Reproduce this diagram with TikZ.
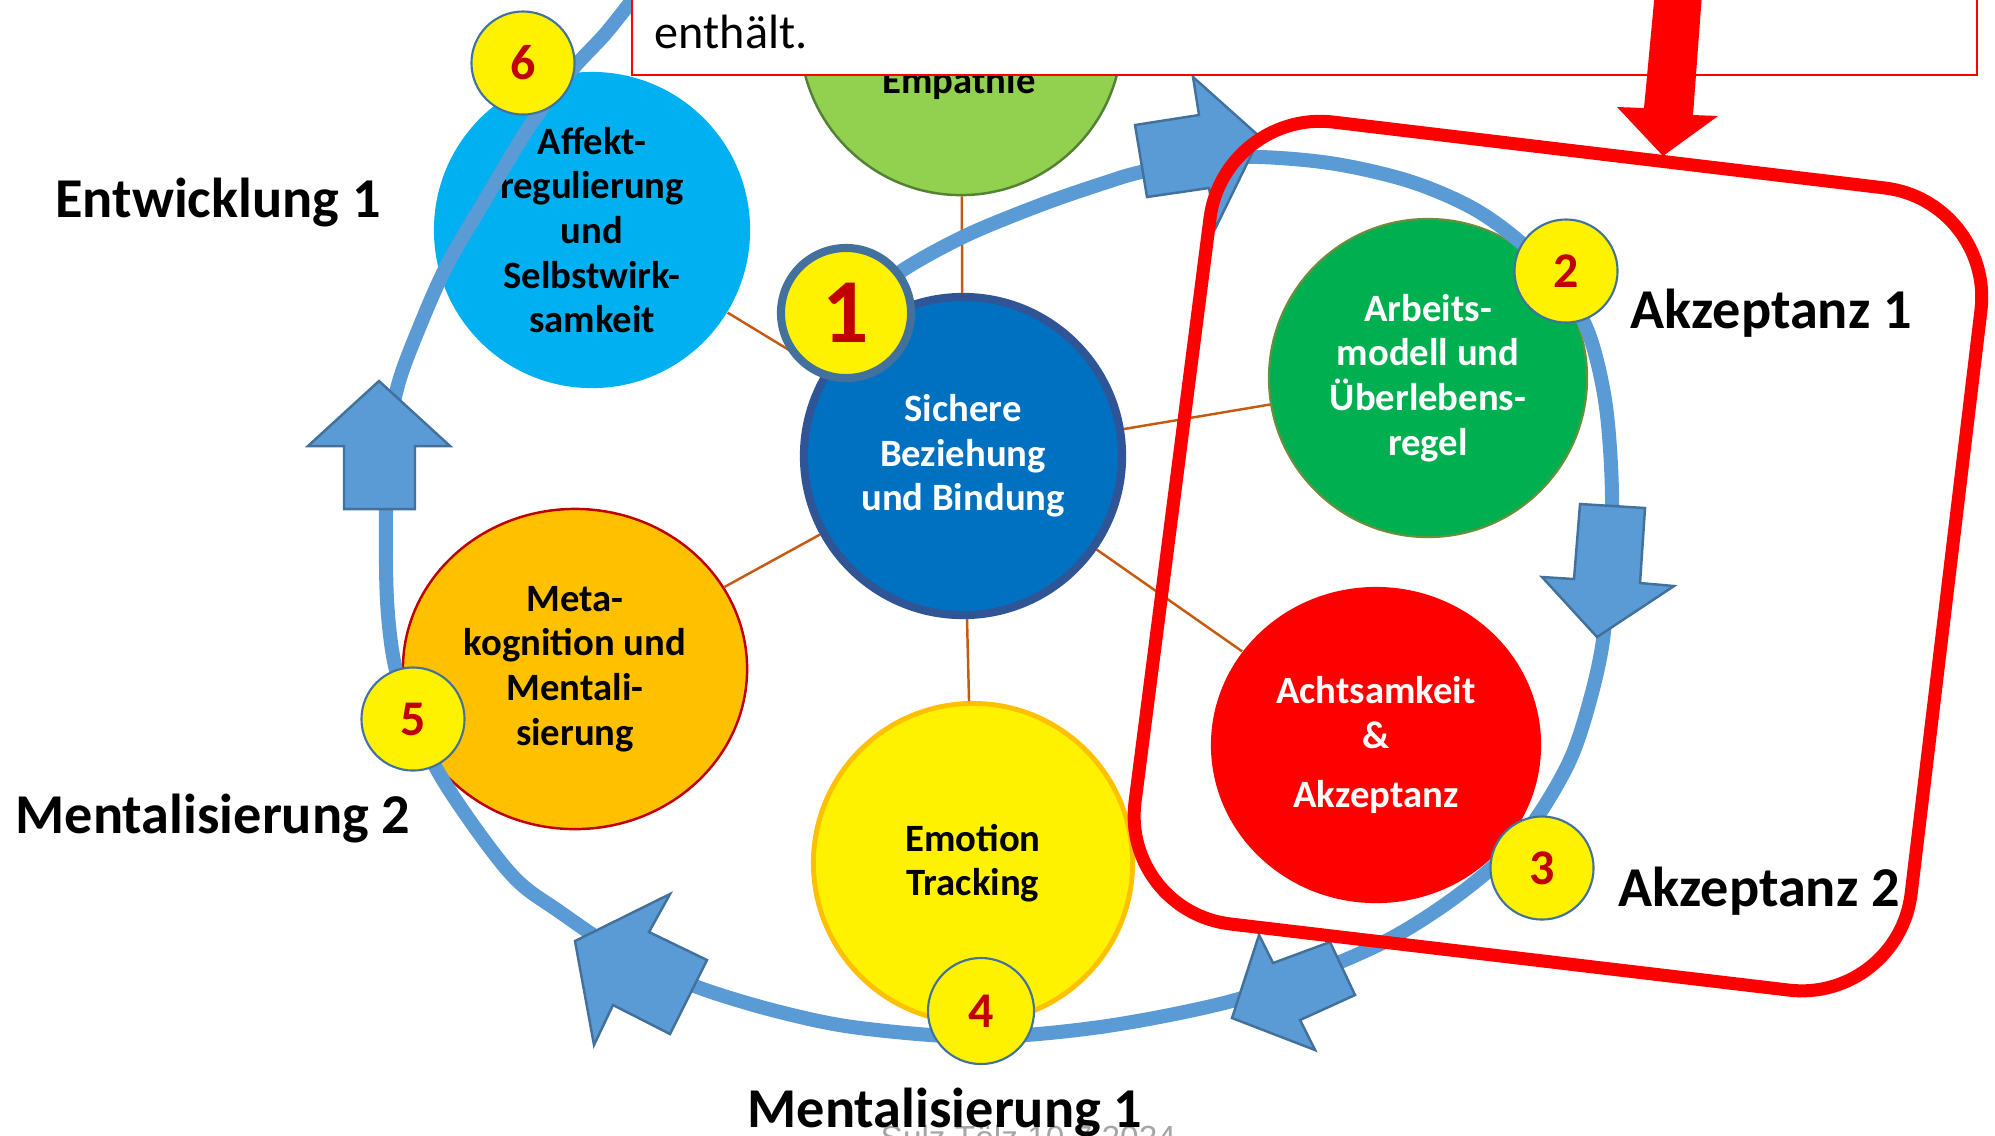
\documentclass[tikz,border=0pt]{standalone}
\usepackage{fontspec}
\setmainfont{Carlito}
\newfontfamily\footfont{Liberation Sans}
\usetikzlibrary{shapes.geometric}

\definecolor{ringblue}{HTML}{5B9BD5}
\definecolor{edgeblue}{HTML}{41719C}
\definecolor{linkbrown}{HTML}{C55A11}
\definecolor{coreblue}{HTML}{0070C0}
\definecolor{coreedge}{HTML}{2F5597}
\definecolor{empgreen}{HTML}{92D050}
\definecolor{empedge}{HTML}{548235}
\definecolor{affcyan}{HTML}{00B0F0}
\definecolor{arbgreen}{HTML}{00B050}
\definecolor{arbedge}{HTML}{6A8F3C}
\definecolor{metaorange}{HTML}{FFC000}
\definecolor{darkred}{HTML}{C00000}
\definecolor{footgray}{HTML}{A6A6A6}

\newcommand\topicfont{\fontsize{11pt}{12.7pt}\selectfont\bfseries}
\newcommand\badgefont{\fontsize{14.2pt}{16pt}\selectfont\bfseries}
\newcommand\bigbadgefont{\fontsize{26pt}{30pt}\selectfont\bfseries}
\newcommand\phasefont{\fontsize{16pt}{19pt}\selectfont\bfseries}

\begin{document}
\begin{tikzpicture}[x=0.01cm, y=-0.01cm,
  topic/.style={circle, inner sep=0pt, align=center, font=\topicfont},
  badge/.style={circle, draw=edgeblue, line width=0.6pt, fill=yellow,
    text=darkred, minimum size=1.03cm, inner sep=0pt, font=\badgefont},
  phase/.style={font=\phasefont, anchor=base, inner sep=0pt},
  blockarrow/.style={fill=ringblue, draw=edgeblue, line width=0.7pt, line join=miter},
  link/.style={draw=linkbrown, line width=0.7pt},
  ring/.style={draw=ringblue, line width=4pt},
  focusframe/.style={draw=red, line width=3.7pt, rounded corners=1.1cm}]

\useasboundingbox (0,0) rectangle (1995,1135);
\clip (0,0) rectangle (1995,1135);

% topic circles
\node[topic, fill=empgreen, draw=empedge, line width=0.7pt, minimum size=3.22cm] (emp) at (961,34) {};
\node[font=\topicfont, anchor=base, inner sep=0pt] (emptext) at (959,93) {Empathie};
\node[topic, fill=coreblue, draw=coreedge, line width=2.3pt, minimum size=3.18cm, text=white] (core) at (963,456) {Sichere\\Beziehung\\und Bindung};
\node[topic, fill=affcyan, minimum size=3.16cm] (aff) at (592,230) {Affekt-\\regulierung\\und\\Selbstwirk-\\samkeit};
\node[topic, fill=arbgreen, draw=arbedge, line width=0.6pt, minimum size=3.18cm, text=white] (arb) at (1428,378) {Arbeits-\\modell und\\Überlebens-\\regel};
\node[topic, ellipse, fill=red, minimum width=3.3cm, minimum height=3.16cm, text=white] (acht) at (1376,745) {Achtsamkeit\\\&\\[0.15cm]Akzeptanz};
\node[topic, fill=yellow, draw=metaorange, line width=1.4pt, minimum size=3.19cm] (emo) at (973,863) {Emotion\\Tracking};
\node[topic, ellipse, fill=metaorange, draw=darkred, line width=0.7pt, minimum width=3.44cm, minimum height=3.2cm] (meta) at (575,669) {Meta-\\kognition und\\Mentali-\\sierung};

% spokes from the centre
\foreach \t in {emp, aff, arb, acht, emo, meta}
  \draw[link] (core) -- (\t);

% the cycle ring
\draw[ring] plot[smooth, tension=0.55] coordinates {
  (860,305) (903,270) (967,235) (1043,204) (1107,182) (1141,172) (1200,160)
  (1260,157) (1336,164) (1412,182) (1476,210) (1527,248) (1565,290) (1590,337)
  (1606,407) (1612,496) (1608,570) (1603,640) (1590,700) (1570,760) (1535,820)
  (1495,865) (1440,908) (1380,944) (1300,978) (1220,1004) (1100,1027) (980,1037)
  (860,1028) (780,1012) (700,988) (630,958) (560,912) (510,873) (446,785)
  (413,719) (395,666) (387,600) (386,509) (388,440) (398,385) (417,333)
  (446,267) (485,200) (529,127) (570,72) (606,33) (640,-10)};

% block arrows on the ring
\draw[blockarrow] (1135,125) -- (1199,115) -- (1193,77) -- (1260,137) -- (1216,227) -- (1209,188) -- (1147,197) -- cycle;
\draw[blockarrow] (1580,504) -- (1645,508) -- (1640,583) -- (1674,586) -- (1597,637) -- (1542,577) -- (1574,579) -- cycle;
\draw[blockarrow] (1330,942) -- (1355,995) -- (1300,1020) -- (1315,1050) -- (1232,1018) -- (1259,935) -- (1273,963) -- cycle;
\draw[blockarrow] (707,960) -- (670,1034) -- (613,1005) -- (594,1045) -- (575,941) -- (670,894) -- (649,932) -- cycle;
\draw[blockarrow] (344,509) -- (415,509) -- (415,446) -- (450,446) -- (379,381) -- (308,446) -- (344,446) -- cycle;

% numbered badges
\node[badge, minimum size=1.3cm, line width=2.3pt, font=\bigbadgefont] (b1) at (846,313) {1};
\node[badge] (b2) at (1566,271) {2};
\node[badge] (b3) at (1542,868) {3};
\node[badge, minimum size=1.06cm] (b4) at (981,1011) {4};
\node[badge] (b5) at (413,719) {5};
\node[badge] (b6) at (523,63) {6};

% red frame around the acceptance part
\draw[focusframe] (1609,155) -- (1994,201) -- (1898,1003) -- (1121,911) -- (1224,109) -- cycle;

% note box at the top
\path[fill=white, draw=red, line width=0.7pt] (632,-20) rectangle (1977,75);
\node[anchor=base west, inner sep=0pt, font=\fontsize{13.7pt}{16pt}\selectfont] (note) at (654,48) {enthält.};
\fill[red] (1656,-20) -- (1703,-20) -- (1693,115) -- (1718,116) -- (1663,156) -- (1617,107) -- (1644,108) -- cycle;

% footer
\node[anchor=base west, inner sep=0pt, text=footgray, font=\footfont\fontsize{9.5pt}{11pt}\selectfont] (foot) at (880,1149) {Sulz Tölz 10.7.2024};

% phase labels
\node[phase] (l1) at (218,217) {Entwicklung 1};
\node[phase] (l2) at (1771,328) {Akzeptanz 1};
\node[phase] (l3) at (1759,906) {Akzeptanz 2};
\node[phase] (l4) at (213,833) {Mentalisierung 2};
\node[phase] (l5) at (945,1127) {Mentalisierung 1};
\end{tikzpicture}
\end{document}
